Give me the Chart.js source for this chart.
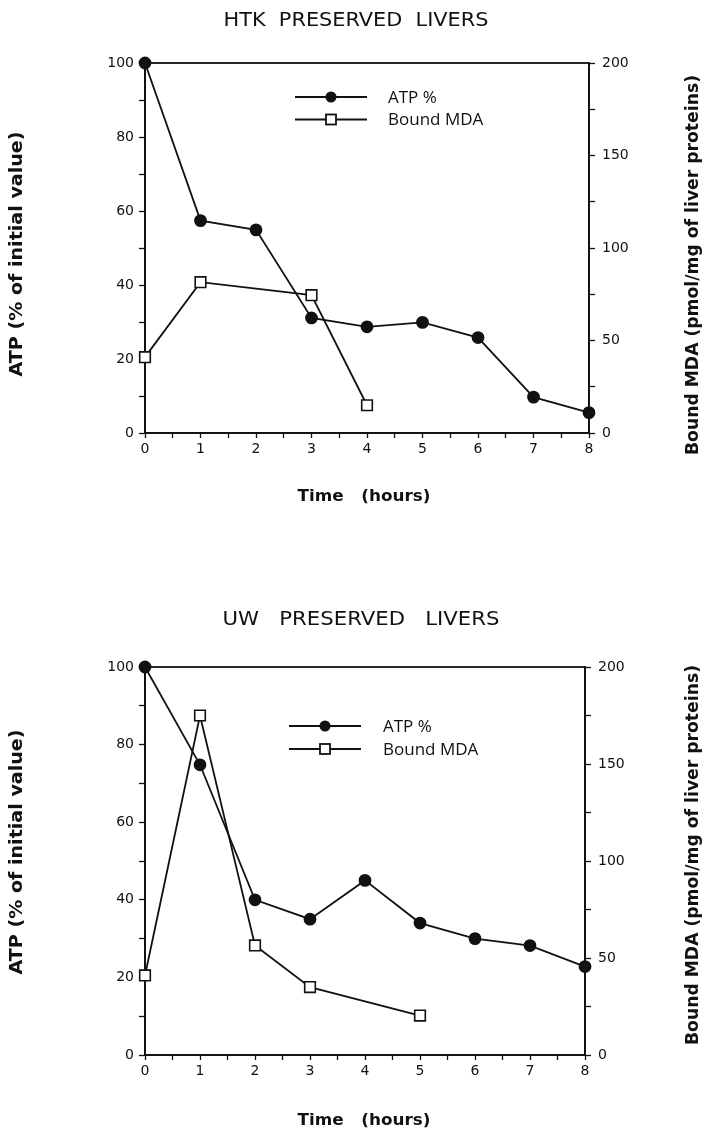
<!DOCTYPE html>
<html><head><meta charset="utf-8">
<script src="https://cdn.jsdelivr.net/npm/chart.js@4.4.0/dist/chart.umd.min.js"></script>
<style>
html,body{margin:0;padding:0;background:#fff;}
#wrap{position:relative;width:708px;height:1135px;overflow:hidden;}
.c{position:absolute;left:0;width:708px;}
</style></head><body>
<div id="wrap">
<div class="c" style="top:0;height:567px"><canvas id="c1"></canvas></div>
<div class="c" style="top:567px;height:568px"><canvas id="c2"></canvas></div>
</div>
<script>
// ---- data ----
const hours = [0, 1, 2, 3, 4, 5, 6, 7, 8];
const htkATP = [100, 57.4, 54.9, 31.1, 28.7, 29.9, 25.8, 9.7, 5.5];
const htkMDAHours = [0, 1, 3, 4];
const htkMDA = [41, 81.5, 74.5, 15];
const uwATP = [100, 74.8, 40, 35, 45, 34, 30, 28.2, 22.8];
const uwMDAHours = [0, 1, 2, 3, 5];
const uwMDA = [41, 175, 56.5, 35, 20.3];
const seriesNames = ['ATP %', 'Bound MDA'];
const titles = ['HTK  PRESERVED  LIVERS', 'UW   PRESERVED   LIVERS'];
const xTitle = 'Time   (hours)';
const yLeftTitle = 'ATP (% of initial value)';
const yRightTitle = 'Bound MDA (pmol/mg of liver proteins)';

const TICK_FONT = {family: '"DejaVu Sans", sans-serif', size: 14};
const INK = '#111';
const LW = 1.8;

function pts(xs, ys){ return xs.map((x,i)=>({x:x, y:ys[i]})); }

// draw text centred at (x,y), squeezed/stretched horizontally to a target width
function fitText(ctx, text, x, y, font, width, rot) {
  ctx.save();
  ctx.font = font;
  ctx.textAlign = 'center'; ctx.textBaseline = 'middle';
  ctx.translate(x, y);
  if (rot) ctx.rotate(rot);
  const w = ctx.measureText(text).width;
  if (width) ctx.scale(width / w, 1);
  ctx.fillText(text, 0, 0);
  ctx.restore();
}

const decoPlugin = {
  id: 'deco',
  beforeDatasetsDraw(chart){
    const ctx = chart.ctx, a = chart.chartArea;
    ctx.save();
    ctx.strokeStyle = INK; ctx.lineWidth = LW;
    ctx.strokeRect(a.left, a.top, a.right - a.left, a.bottom - a.top);
    ctx.restore();
  },
  afterDraw(chart, args, o){
    const ctx = chart.ctx;
    ctx.save();
    ctx.fillStyle = INK;
    fitText(ctx, o.title, o.titleX, o.titleY, o.titleFont, o.titleW, 0);
    fitText(ctx, o.xTitle, o.xTitleX, o.xTitleY, 'bold 16px "DejaVu Sans", sans-serif', o.xTitleW, 0);
    fitText(ctx, o.yLeft, o.yLX, o.yLY, 'bold 17px "DejaVu Sans", sans-serif', o.yLW, -Math.PI/2);
    fitText(ctx, o.yRight, o.yRX, o.yRY, 'bold 17px "DejaVu Sans", sans-serif', o.yRW, -Math.PI/2);
    // legend
    ctx.strokeStyle = INK; ctx.lineWidth = LW;
    ctx.textAlign = 'left'; ctx.textBaseline = 'middle';
    ctx.font = '17px "Open Sans", "DejaVu Sans", sans-serif';
    o.legend.forEach((L, i) => {
      const y = o.legY + i * o.legGap;
      ctx.beginPath(); ctx.moveTo(o.legX1, y); ctx.lineTo(o.legX2, y); ctx.stroke();
      const mx = (o.legX1 + o.legX2) / 2;
      if (i === 0) {
        ctx.beginPath(); ctx.arc(mx, y, 5.5, 0, Math.PI*2); ctx.fillStyle = INK; ctx.fill();
      } else {
        ctx.fillStyle = '#fff'; ctx.fillRect(mx-5, y-5, 10, 10);
        ctx.strokeRect(mx-5, y-5, 10, 10);
      }
      ctx.fillStyle = INK;
      ctx.fillText(L, o.legTextX, y + 1);
    });
    ctx.restore();
  }
};

function makeChart(id, H, area, atp, mdaX, mdaY, decoOpts) {
  return new Chart(document.getElementById(id), {
    type: 'line',
    data: {
      datasets: [
        {label: seriesNames[0], data: pts(hours, atp), yAxisID: 'y',
         borderColor: INK, backgroundColor: INK, borderWidth: LW,
         pointStyle: 'circle', pointRadius: 5.5, pointBackgroundColor: INK, pointBorderColor: INK,
         clip: false, tension: 0},
        {label: seriesNames[1], data: pts(mdaX, mdaY), yAxisID: 'y2',
         borderColor: INK, backgroundColor: '#fff', borderWidth: LW,
         pointStyle: 'rect', pointRadius: 7.5, pointBackgroundColor: '#fff', pointBorderColor: INK, pointBorderWidth: 1.6,
         clip: false, tension: 0}
      ]
    },
    options: {
      responsive: true, maintainAspectRatio: false, animation: false,
      layout: {padding: {top: area.top, left: 0, right: 0, bottom: 0}, autoPadding: false},
      plugins: {legend: {display: false}, tooltip: {enabled: false}, deco: decoOpts},
      scales: {
        x: {type: 'linear', min: 0, max: 8,
            afterFit: s => { s.height = H - area.bottom; },
            ticks: {stepSize: 0.5, autoSkip: false, maxRotation: 0, color: INK, font: TICK_FONT, padding: 3,
                    callback: v => Number.isInteger(v) ? String(v) : ''},
            grid: {drawOnChartArea: false, drawTicks: true, tickLength: 5, color: INK, tickWidth: 1.3},
            border: {display: true, color: INK, width: LW}},
        y: {type: 'linear', position: 'left', min: 0, max: 100,
            afterFit: s => { s.width = area.left; },
            ticks: {stepSize: 10, autoSkip: false, color: INK, font: TICK_FONT, padding: 5,
                    callback: v => (v % 20 === 0) ? String(v) : ''},
            grid: {drawOnChartArea: false, drawTicks: true, tickLength: 6, color: INK, tickWidth: 1.3},
            border: {display: true, color: INK, width: LW}},
        y2: {type: 'linear', position: 'right', min: 0, max: 200,
            afterFit: s => { s.width = 708 - area.right; },
            ticks: {stepSize: 25, autoSkip: false, color: INK, font: TICK_FONT, padding: 7,
                    callback: v => (v % 50 === 0) ? String(v) : ''},
            grid: {drawOnChartArea: false, drawTicks: true, tickLength: 6, color: INK, tickWidth: 1.3},
            border: {display: true, color: INK, width: LW}}
      }
    },
    plugins: [decoPlugin]
  });
}

makeChart('c1', 567, {left: 145, right: 589, top: 63, bottom: 433}, htkATP, htkMDAHours, htkMDA, {
  title: titles[0], titleFont: '20px "DejaVu Sans", sans-serif', titleX: 356, titleY: 21, titleW: 265,
  xTitle: xTitle, xTitleX: 364, xTitleY: 497, xTitleW: 133,
  yLeft: yLeftTitle, yLX: 18, yLY: 254, yLW: 245,
  yRight: yRightTitle, yRX: 694, yRY: 265, yRW: 380,
  legend: seriesNames, legX1: 295, legX2: 367, legY: 97, legGap: 22.5, legTextX: 388
});
makeChart('c2', 568, {left: 145, right: 585, top: 100, bottom: 488}, uwATP, uwMDAHours, uwMDA, {
  title: titles[1], titleFont: '20px "DejaVu Sans", sans-serif', titleX: 361, titleY: 53, titleW: 277,
  xTitle: xTitle, xTitleX: 364, xTitleY: 554, xTitleW: 133,
  yLeft: yLeftTitle, yLX: 18, yLY: 285, yLW: 245,
  yRight: yRightTitle, yRX: 694, yRY: 288, yRW: 380,
  legend: seriesNames, legX1: 289, legX2: 361, legY: 159, legGap: 23, legTextX: 383
});
</script>
</body></html>
